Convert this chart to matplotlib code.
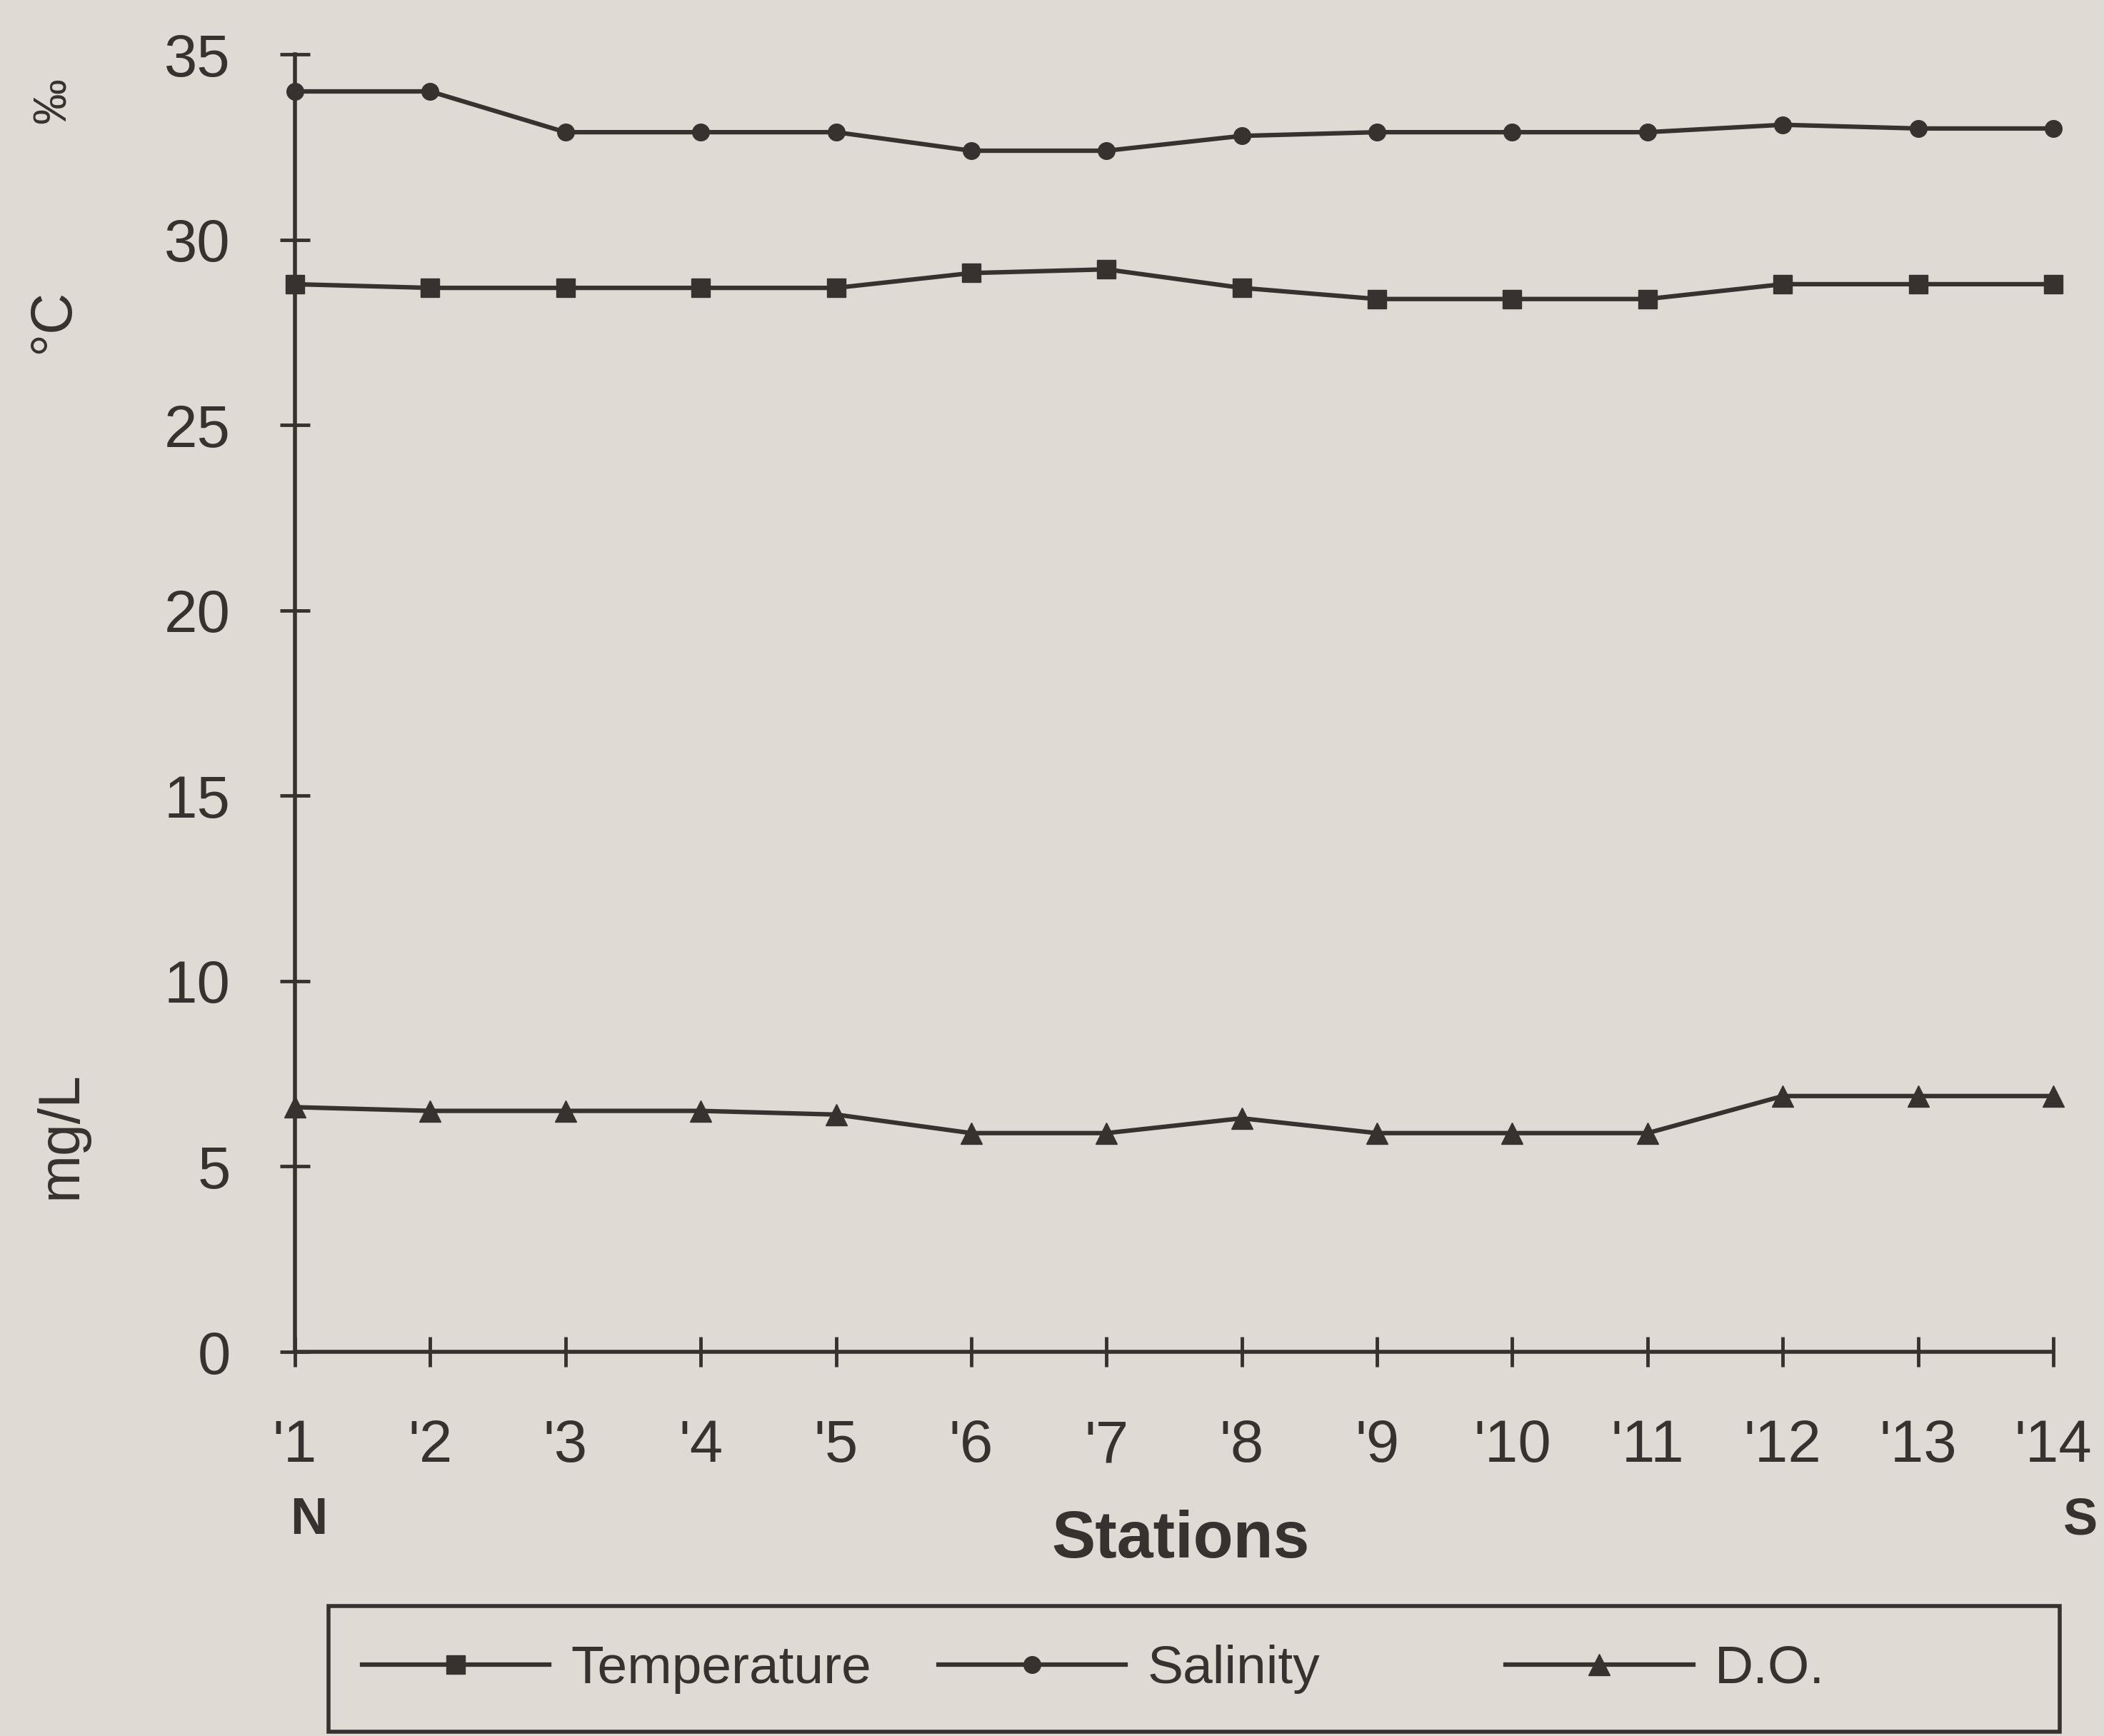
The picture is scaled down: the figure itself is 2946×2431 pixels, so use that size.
import matplotlib.pyplot as plt
from matplotlib.patches import Rectangle

plt.rcParams['font.family'] = ['Liberation Sans', 'DejaVu Sans']

stations = list(range(1, 15))
station_labels = ["'" + str(s) for s in stations]
temperature = [28.8, 28.7, 28.7, 28.7, 28.7, 29.1, 29.2, 28.7, 28.4, 28.4, 28.4, 28.8, 28.8, 28.8]
salinity = [34.0, 34.0, 32.9, 32.9, 32.9, 32.4, 32.4, 32.8, 32.9, 32.9, 32.9, 33.1, 33.0, 33.0]
dissolved_oxygen = [6.6, 6.5, 6.5, 6.5, 6.4, 5.9, 5.9, 6.3, 5.9, 5.9, 5.9, 6.9, 6.9, 6.9]
y_ticks = [0, 5, 10, 15, 20, 25, 30, 35]

bg = '#dfdbd4'
ink = '#37322f'

fig = plt.figure(figsize=(29.46, 24.31), dpi=100, facecolor=bg)
ax = fig.add_axes([0.1402, 0.2213, 0.8357, 0.7474])
ax.set_facecolor(bg)

lines = []
for vals, mk, ms, name in [(temperature, 's', 19, 'Temperature'),
                           (salinity, 'o', 17, 'Salinity'),
                           (dissolved_oxygen, '^', 21, 'D.O.')]:
    ln, = ax.plot(stations, vals, color=ink, lw=4.5, marker=mk, ms=ms,
                  mfc=ink, mec=ink, clip_on=False, label=name)
    lines.append(ln)

ax.set_xlim(1, 14)
ax.set_ylim(0, 35)
ax.set_xticks(stations)
ax.set_xticklabels(station_labels)
ax.set_yticks(y_ticks)
for s in ['top', 'right']:
    ax.spines[s].set_visible(False)
for s in ['left', 'bottom']:
    ax.spines[s].set_linewidth(4)
    ax.spines[s].set_color(ink)
ax.tick_params(direction='inout', length=30, width=3.5, colors=ink, labelsize=60)
ax.tick_params(axis='x', pad=52)
ax.tick_params(axis='y', pad=50)

# unit labels on the left
fig.text(0.0255, 0.942, '‰', rotation=90, fontsize=46, color=ink, ha='center', va='center')
fig.text(0.0255, 0.815, '°C', rotation=90, fontsize=58, color=ink, ha='center', va='center')
fig.text(0.029, 0.346, 'mg/L', rotation=90, fontsize=58, color=ink, ha='center', va='center')

fig.text(0.1466, 0.1242, 'N', fontsize=52, fontweight='bold', color=ink, ha='center', va='center')
fig.text(0.997, 0.1242, 'S', fontsize=52, fontweight='bold', color=ink, ha='right', va='center')
fig.text(0.561, 0.1127, 'Stations', fontsize=66, fontweight='bold', color=ink,
         ha='center', va='center')

# legend box
fig.patches.append(Rectangle((0.156, 0.0025), 0.823, 0.0724, transform=fig.transFigure,
                             fill=False, ec=ink, lw=4))
for ln, xpos in zip(lines, [0.172, 0.446, 0.7156]):
    fig.legend(handles=[ln], labels=[ln.get_label()], loc='center left',
               bbox_to_anchor=(xpos, 0.0385), frameon=False, fontsize=54,
               handlelength=3.5, handletextpad=0.4, borderpad=0, borderaxespad=0,
               labelcolor=ink)

fig.savefig('out.png', dpi=100, facecolor=bg)
